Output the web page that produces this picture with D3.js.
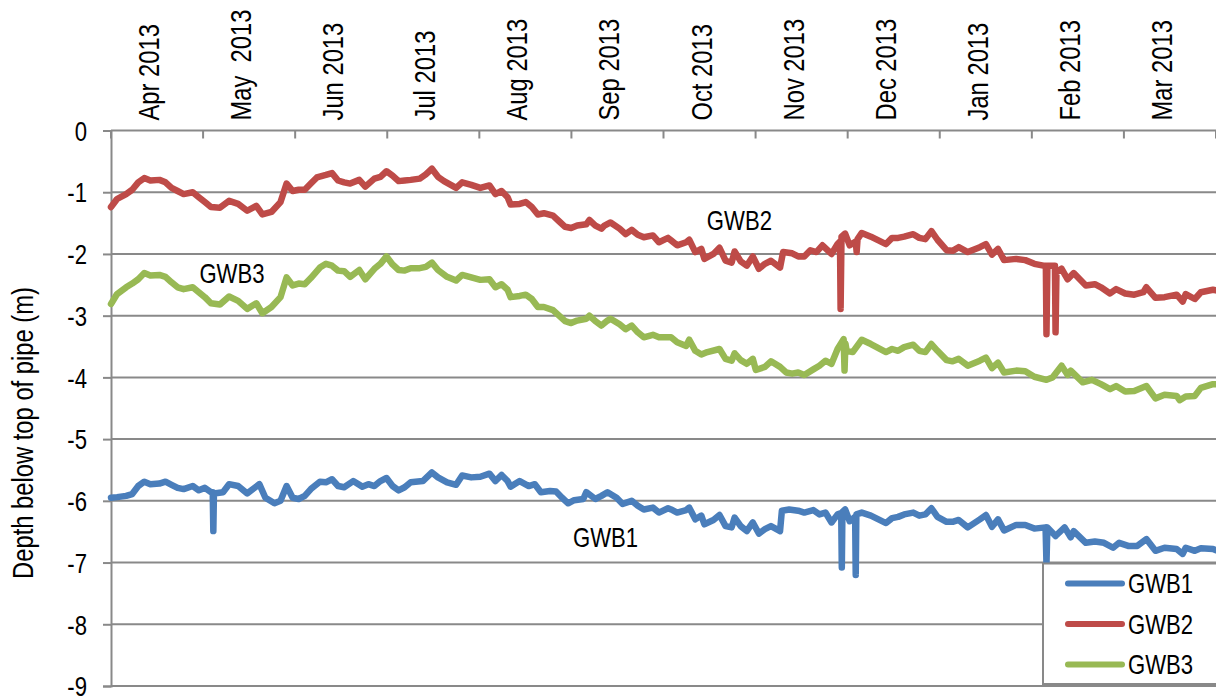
<!DOCTYPE html>
<html>
<head>
<meta charset="utf-8">
<script src="https://cdn.jsdelivr.net/npm/d3@7"></script>
<style>
  body { margin: 0; background: #fff; }
  text { font-family: "Liberation Sans", Arial, sans-serif; fill: #000; white-space: pre; }
</style>
</head>
<body>
<div id="body"></div>
<script>
// month labels along the top (text copied as printed)
var monthLabels = ["Apr 2013", "May  2013", "Jun 2013", "Jul 2013", "Aug 2013", "Sep 2013",
                   "Oct 2013", "Nov 2013", "Dec 2013", "Jan 2013", "Feb 2013", "Mar 2013"];
var depthTicks = [0, -1, -2, -3, -4, -5, -6, -7, -8, -9];
var seriesNames = ["GWB1", "GWB2", "GWB3"];
var seriesColors = ["#4a7ebb", "#be4b48", "#98b954"];

// day of record (0 = start of first month) and depth below top of pipe (m)
var gwb1Day = [0,2,5,7,9,11,13,16,18,20,22,24,27,29,31,33,33.6,33.8,34,37,39,42,45,49,51,54,56,58,60,62,64,66,69,71,73,75,77,80,83,85,87,89,91,93,95,97,99,103,106,108,111,114,116,119,122,125,127,129,131,132,135,138,140,142,145,147,149,151,153,156,157,160,162,164,167,169,172,174,176,179,181,184,185,187,190,191,193,195,196,199,201,203,205,206,208,210,212,214,216,218,221,221.6,224,227,229,232,234,236,238,240,241.2,241.4,241.6,242.5,244,245.8,246,246.2,248,251,256,258,260,262,265,267,269,271,273,276,278,280,283,287,289,291,293,295,299,302,305,308.7,309,309.3,312,315,317,318,322,325,328,331,333,336,339,342,345,348,352,354,355,358,360,364,365];
var gwb1Depth = [-5.95,-5.94,-5.92,-5.89,-5.76,-5.69,-5.73,-5.72,-5.69,-5.74,-5.79,-5.81,-5.76,-5.83,-5.79,-5.86,-5.86,-6.49,-5.88,-5.86,-5.73,-5.76,-5.88,-5.73,-5.95,-6.04,-6.00,-5.76,-5.95,-5.97,-5.92,-5.81,-5.69,-5.70,-5.65,-5.76,-5.78,-5.68,-5.77,-5.73,-5.76,-5.68,-5.63,-5.76,-5.83,-5.78,-5.70,-5.68,-5.54,-5.62,-5.70,-5.74,-5.59,-5.62,-5.61,-5.56,-5.68,-5.58,-5.68,-5.77,-5.68,-5.76,-5.73,-5.86,-5.84,-5.85,-5.95,-6.04,-5.99,-5.97,-5.86,-5.97,-5.92,-5.86,-5.95,-6.05,-6.00,-6.08,-6.14,-6.11,-6.19,-6.12,-6.14,-6.19,-6.15,-6.11,-6.30,-6.24,-6.38,-6.31,-6.23,-6.41,-6.43,-6.27,-6.41,-6.49,-6.35,-6.53,-6.46,-6.41,-6.49,-6.16,-6.14,-6.16,-6.19,-6.15,-6.22,-6.19,-6.35,-6.22,-6.20,-7.08,-6.18,-6.14,-6.33,-6.26,-7.20,-6.22,-6.19,-6.24,-6.36,-6.28,-6.26,-6.22,-6.19,-6.24,-6.22,-6.12,-6.26,-6.34,-6.34,-6.31,-6.43,-6.30,-6.23,-6.42,-6.30,-6.48,-6.39,-6.39,-6.45,-6.43,-7.02,-6.43,-6.57,-6.43,-6.59,-6.49,-6.68,-6.66,-6.68,-6.76,-6.68,-6.73,-6.73,-6.62,-6.81,-6.76,-6.78,-6.86,-6.76,-6.81,-6.77,-6.78,-6.80];

var gwb2Day = [0,2,5,7,9,11,13,16,18,20,22,24,27,29,31,33,36,39,42,45,48,50,53,56,58,60,62,64,66,68,71,73,75,77,79,82,84,87,89,91,93,95,97,99,102,104,106,108,110,114,116,119,122,125,127,129,131,132,135,137,139,141,143,146,148,150,152,154,157,158,160,162,163,165,168,170,172,174,176,179,181,184,185,187,190,191,193,195,196,199,201,203,205,206,208,210,212,214,216,218,221,222,225,227,229,231,233,235,238,240,240.8,241,241.3,242.5,244,246,246.3,246.6,248,251,256,258,260,262,265,267,269,271,273,276,278,280,283,287,289,291,293,295,299,302,305,308,308.8,309,309.3,311,311.8,312,312.3,314,316,318,322,325,327,330,332,335,338,341,342,345,348,352,354,355,358,360,364,365];
var gwb2Depth = [-1.24,-1.11,-1.03,-0.96,-0.84,-0.77,-0.81,-0.80,-0.84,-0.93,-0.98,-1.03,-1.00,-1.08,-1.16,-1.24,-1.25,-1.14,-1.19,-1.30,-1.22,-1.36,-1.32,-1.16,-0.86,-0.98,-0.96,-0.96,-0.86,-0.76,-0.72,-0.69,-0.81,-0.84,-0.86,-0.80,-0.91,-0.78,-0.75,-0.66,-0.73,-0.82,-0.81,-0.80,-0.78,-0.71,-0.62,-0.75,-0.82,-0.93,-0.84,-0.88,-0.93,-0.89,-1.03,-0.98,-1.08,-1.20,-1.19,-1.16,-1.24,-1.36,-1.34,-1.38,-1.47,-1.56,-1.58,-1.54,-1.52,-1.45,-1.54,-1.59,-1.54,-1.49,-1.59,-1.68,-1.61,-1.69,-1.73,-1.70,-1.81,-1.74,-1.78,-1.86,-1.81,-1.77,-1.97,-1.92,-2.08,-2.00,-1.90,-2.11,-2.14,-1.96,-2.12,-2.19,-2.04,-2.24,-2.16,-2.11,-2.22,-1.97,-1.99,-2.04,-2.04,-1.94,-1.97,-1.86,-2.00,-1.84,-1.80,-2.89,-1.72,-1.67,-1.86,-1.80,-1.97,-1.76,-1.66,-1.72,-1.84,-1.74,-1.74,-1.72,-1.68,-1.74,-1.76,-1.63,-1.77,-1.94,-1.95,-1.89,-1.97,-1.89,-1.84,-2.01,-1.92,-2.10,-2.08,-2.10,-2.16,-2.19,-2.19,-3.30,-2.19,-2.19,-2.19,-3.27,-2.30,-2.24,-2.41,-2.31,-2.51,-2.49,-2.54,-2.64,-2.57,-2.64,-2.66,-2.62,-2.54,-2.71,-2.70,-2.66,-2.77,-2.65,-2.73,-2.62,-2.58,-2.59];

var gwb3Day = [0,2,5,7,9,11,13,16,18,20,22,24,27,29,31,33,36,39,42,45,48,50,53,56,58,60,62,64,66,69,71,73,75,77,79,82,84,87,89,91,93,95,97,99,102,104,106,108,111,114,116,119,122,125,127,129,131,132,135,137,139,141,143,146,148,150,152,154,157,158,160,162,164,165,168,170,172,174,176,179,181,184,185,187,190,191,193,195,197,201,203,205,206,208,210,212,213,216,218,221,223,225,227,229,232,234,236,238,240,242,242.3,242.6,243,245,248,251,256,258,260,262,265,267,269,271,273,276,278,280,283,287,289,291,293,295,299,302,305,309,311,314,316,317,321,324,327,330,332,335,338,342,345,348,352,353,355,358,360,364,365];
var gwb3Depth = [-2.81,-2.65,-2.54,-2.48,-2.41,-2.31,-2.35,-2.34,-2.37,-2.46,-2.54,-2.57,-2.54,-2.62,-2.70,-2.80,-2.82,-2.69,-2.76,-2.89,-2.80,-2.96,-2.86,-2.70,-2.38,-2.51,-2.48,-2.49,-2.39,-2.22,-2.16,-2.19,-2.27,-2.28,-2.37,-2.26,-2.41,-2.24,-2.16,-2.04,-2.17,-2.26,-2.27,-2.23,-2.23,-2.21,-2.14,-2.26,-2.37,-2.43,-2.34,-2.38,-2.42,-2.41,-2.54,-2.49,-2.58,-2.70,-2.68,-2.66,-2.73,-2.86,-2.86,-2.91,-3.00,-3.09,-3.12,-3.08,-3.05,-3.00,-3.09,-3.16,-3.08,-3.05,-3.14,-3.22,-3.16,-3.27,-3.35,-3.31,-3.35,-3.35,-3.35,-3.43,-3.49,-3.39,-3.57,-3.63,-3.59,-3.54,-3.70,-3.73,-3.61,-3.72,-3.78,-3.70,-3.88,-3.83,-3.74,-3.83,-3.92,-3.94,-3.92,-3.96,-3.87,-3.81,-3.73,-3.78,-3.54,-3.38,-3.89,-3.45,-3.57,-3.59,-3.39,-3.46,-3.59,-3.54,-3.57,-3.51,-3.47,-3.57,-3.59,-3.46,-3.57,-3.72,-3.74,-3.70,-3.81,-3.73,-3.68,-3.85,-3.76,-3.92,-3.89,-3.90,-3.99,-4.04,-4.00,-3.81,-3.96,-3.89,-4.08,-4.04,-4.11,-4.19,-4.14,-4.23,-4.22,-4.14,-4.34,-4.28,-4.30,-4.37,-4.31,-4.30,-4.17,-4.11,-4.11];

// series name labels placed inside the plot (day, depth)
var noteDay = [152.6, 196.8, 29.2];
var noteDepth = [-6.75, -1.61, -2.47];

var width = 1216, height = 697;
var plot = {left: 111, right: 1216, top: 130.5, bottom: 686};
var totalDays = 365;

var svg = d3.select("#body").append("svg")
    .attr("width", width)
    .attr("height", height);

var x = d3.scaleLinear()
    .domain([0, totalDays])
    .range([plot.left, plot.right]);

var y = d3.scaleLinear()
    .domain([0, -9])
    .range([plot.top, plot.bottom]);

var monthStep = totalDays / monthLabels.length;
var monthEdges = d3.range(monthLabels.length + 1).map(function(i) { return i * monthStep; });

// horizontal gridlines
svg.append("g").selectAll("line")
    .data(depthTicks)
  .enter().append("line")
    .attr("x1", plot.left)
    .attr("x2", plot.right)
    .attr("y1", function(d) { return y(d); })
    .attr("y2", function(d) { return y(d); })
    .attr("stroke", "#898989")
    .attr("stroke-width", 2);

// y axis
var yAxis = d3.axisLeft(y)
    .tickValues(depthTicks)
    .tickSize(8)
    .tickPadding(16)
    .tickFormat(function(d) { return d3.format("d")(d).replace("−", "-"); });

var yg = svg.append("g")
    .attr("transform", "translate(" + plot.left + ",0)")
    .call(yAxis);
yg.select(".domain").attr("stroke", "#898989").attr("stroke-width", 2);
yg.selectAll(".tick line").attr("stroke", "#898989").attr("stroke-width", 2);
yg.selectAll(".tick text")
    .attr("font-size", 27)
    .attr("font-family", null)
    .attr("dy", "0.36em")
    .attr("x", null)
    .attr("transform", "translate(-24,0) scale(0.82,1)");

// x axis on top: ticks hang down into plot, month names rotated above
var xg = svg.append("g");
xg.selectAll("line")
    .data(monthEdges)
  .enter().append("line")
    .attr("x1", function(d) { return x(d); })
    .attr("x2", function(d) { return x(d); })
    .attr("y1", plot.top)
    .attr("y2", plot.top + 8)
    .attr("stroke", "#898989")
    .attr("stroke-width", 2);

xg.selectAll("text")
    .data(monthLabels)
  .enter().append("text")
    .attr("font-size", 29)
    .attr("text-anchor", "start")
    .attr("transform", function(d, i) {
        return "translate(" + (x((i + 0.5) * monthStep) + 2) + "," + (plot.top - 10) + ") rotate(-90) scale(0.82,1)";
    })
    .text(function(d) { return d; });

// y axis title
svg.append("text")
    .attr("font-size", 29)
    .attr("text-anchor", "middle")
    .attr("transform", "translate(33,433) rotate(-90) scale(0.82,1)")
    .text("Depth below top of pipe (m)");

// the three records
var series = [
    {name: seriesNames[0], color: seriesColors[0], days: gwb1Day, depth: gwb1Depth},
    {name: seriesNames[1], color: seriesColors[1], days: gwb2Day, depth: gwb2Depth},
    {name: seriesNames[2], color: seriesColors[2], days: gwb3Day, depth: gwb3Depth}
];

var line = d3.line()
    .x(function(d) { return x(d[0]); })
    .y(function(d) { return y(d[1]); });

svg.append("g").selectAll("path")
    .data(series)
  .enter().append("path")
    .attr("d", function(s) { return line(d3.zip(s.days, s.depth)); })
    .attr("fill", "none")
    .attr("stroke", function(s) { return s.color; })
    .attr("stroke-width", 6.5)
    .attr("stroke-linejoin", "round")
    .attr("stroke-linecap", "round");

// labels next to lines
svg.append("g").selectAll("text")
    .data(series)
  .enter().append("text")
    .attr("font-size", 27)
    .attr("transform", function(s, i) {
        return "translate(" + x(noteDay[i]) + "," + y(noteDepth[i]) + ") scale(0.82,1)";
    })
    .text(function(s) { return s.name; });

// legend
var legend = svg.append("g")
    .attr("transform", "translate(1043,563.5)");

legend.append("rect")
    .attr("width", 180)
    .attr("height", 120.5)
    .attr("fill", "#fff")
    .attr("stroke", "#898989")
    .attr("stroke-width", 2);

var item = legend.selectAll(".item")
    .data(series)
  .enter().append("g")
    .attr("class", "item")
    .attr("transform", function(s, i) { return "translate(0," + (20 + i * 40.5) + ")"; });

item.append("line")
    .attr("x1", 25)
    .attr("x2", 79)
    .attr("stroke", function(s) { return s.color; })
    .attr("stroke-width", 6)
    .attr("stroke-linecap", "round");

item.append("text")
    .attr("font-size", 27)
    .attr("transform", "translate(85,9.7) scale(0.82,1)")
    .text(function(s) { return s.name; });
</script>
</body>
</html>
